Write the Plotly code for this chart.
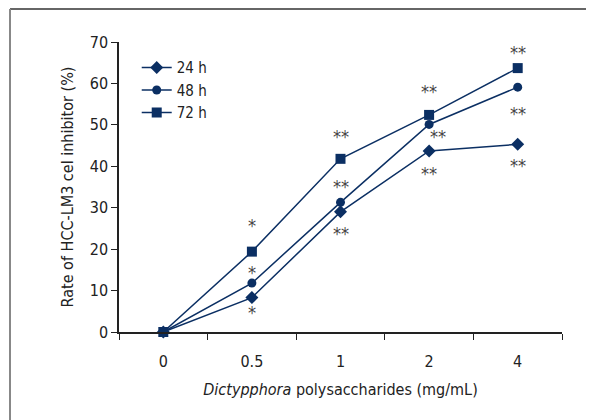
import plotly.graph_objects as go

# ---- data ----
categories = ["0", "0.5", "1", "2", "4"]
series_names = ["24 h", "48 h", "72 h"]
values_24h = [0, 8.3, 29.0, 43.7, 45.3]
values_48h = [0, 11.8, 31.3, 50.1, 59.1]
values_72h = [0, 19.4, 41.8, 52.4, 63.7]
sig_top = ["", "*", "**", "**", "**"]      # above 72 h
sig_mid = ["", "*", "**", "**", "**"]      # near 48 h
sig_bottom = ["", "*", "**", "**", "**"]   # below 24 h
y_ticks = [0, 10, 20, 30, 40, 50, 60, 70]

NAVY = "#0b2f63"
FONT = "DejaVu Sans Condensed, Liberation Sans Narrow, sans-serif"

fig = go.Figure()
symbols = ["diamond", "circle", "square"]
sizes = [10, 9, 10]
for name, vals, sym, sz in zip(series_names, [values_24h, values_48h, values_72h], symbols, sizes):
    fig.add_trace(go.Scatter(
        x=categories, y=vals, name=name, mode="lines+markers",
        line=dict(color=NAVY, width=1.5),
        marker=dict(symbol=sym, size=sz, color=NAVY),
        cliponaxis=False,
    ))

# significance annotations (pixel shifts relative to marker)
top_shift = [0, 26, 22, 23, 16]
mid_shift = [0, 11, 16, -12, -26]
mid_xshift = [0, 0, 0, 9, 0]
bot_shift = [0, -15, -22, -23, -21]
ann = []
for i in range(len(categories)):
    if sig_top[i]:
        ann.append(dict(x=i, y=values_72h[i], text=sig_top[i], yshift=top_shift[i]))
    if sig_mid[i]:
        ann.append(dict(x=i, y=values_48h[i], text=sig_mid[i], yshift=mid_shift[i], xshift=mid_xshift[i]))
    if sig_bottom[i]:
        ann.append(dict(x=i, y=values_24h[i], text=sig_bottom[i], yshift=bot_shift[i]))
for a in ann:
    a.update(xref="x", yref="y", showarrow=False, font=dict(family=FONT, size=18, color="#444"))

# page body adds an 8px offset; layout pixels below are compensated
OFF = 8
L, T, R, B = 119 - OFF, 42 - OFF, 594 - (562 - OFF), 420 - (332 - OFF)
plot_w, plot_h = 594 - L - R, 420 - T - B
def px_x(p): return (p - OFF - L) / plot_w
def px_y(p): return (420 - B - (p - OFF)) / plot_h
shapes = [
    dict(type="line", xref="paper", yref="paper", x0=px_x(10), x1=px_x(610), y0=px_y(9), y1=px_y(9),
         line=dict(color="#333", width=1.5)),
    dict(type="line", xref="paper", yref="paper", x0=px_x(10), x1=px_x(10), y0=px_y(9), y1=px_y(440),
         line=dict(color="#888", width=2)),
]

fig.update_layout(
    width=594, height=420,
    margin=dict(l=L, r=R, t=T, b=B, autoexpand=False),
    paper_bgcolor="white", plot_bgcolor="white",
    font=dict(family=FONT, size=16, color="#222"),
    showlegend=True,
    legend=dict(x=0.04, y=0.968, xanchor="left", yanchor="top", bgcolor="rgba(0,0,0,0)",
                font=dict(size=15), tracegroupgap=0, itemwidth=30),
    annotations=ann,
    shapes=shapes,
)
fig.update_xaxes(
    type="category", range=[-0.5, 4.5], showgrid=False, zeroline=False, automargin=False,
    showline=True, linecolor="#222", linewidth=1.5,
    ticks="outside", ticklen=6, tickcolor="#222", tickson="boundaries",
    ticklabelstandoff=14,
    title=dict(text="<i>Dictypphora</i> polysaccharides (mg/mL)", standoff=14, font=dict(size=16)),
)
fig.update_yaxes(
    range=[0, 70], tickvals=y_ticks, showgrid=False, zeroline=False, automargin=False,
    showline=True, linecolor="#222", linewidth=1.5,
    ticks="outside", ticklen=6, tickcolor="#222",
    title=dict(text="Rate of HCC-LM3 cel inhibitor (%)", standoff=12, font=dict(size=16)),
)

fig.write_html("out.html")
